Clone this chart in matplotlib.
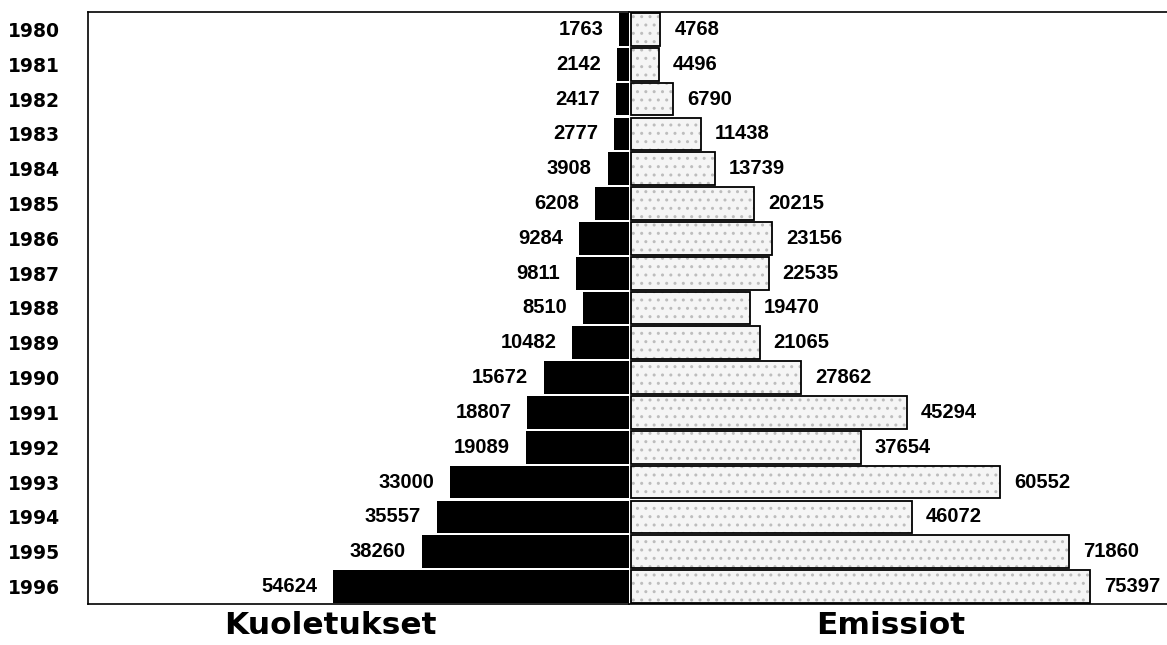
import matplotlib.pyplot as plt
import numpy as np

years = ["1980", "1981", "1982", "1983", "1984", "1985", "1986", "1987", "1988",
         "1989", "1990", "1991", "1992", "1993", "1994", "1995", "1996"]
kuoletukset = [1763, 2142, 2417, 2777, 3908, 6208, 9284, 9811, 8510,
               10482, 15672, 18807, 19089, 33000, 35557, 38260, 54624]
emissiot = [4768, 4496, 6790, 11438, 13739, 20215, 23156, 22535, 19470,
            21065, 27862, 45294, 37654, 60552, 46072, 71860, 75397]

W, H = 1167, 645
fig = plt.figure(figsize=(W / 100, H / 100), dpi=100)

y = np.arange(len(years))
bh = 0.94
lbl_font = dict(family="Liberation Sans", fontweight="bold", fontsize=14.5)

# left side: Kuoletukset (black, growing to the left)
axl = fig.add_axes([88 / W, 41 / H, 541 / W, 592 / H])
axl.barh(y, kuoletukset, height=bh, color="black")
axl.set_xlim(100000, 0)
axl.set_ylim(len(years) - 0.5, -0.5)
axl.set_xticks([])
axl.set_yticks(y)
axl.set_yticklabels(years, fontfamily="DejaVu Sans", fontweight="bold", fontsize=13.5)
axl.tick_params(axis="y", length=0, pad=20)
axl.spines["right"].set_visible(False)
for s in ["left", "top", "bottom"]:
    axl.spines[s].set_linewidth(1.2)
for yi, v in zip(y, kuoletukset):
    axl.annotate(str(v), (v, yi), xytext=(-16, 0), textcoords="offset pixels",
                 ha="right", va="center", **lbl_font)

# right side: Emissiot (light dotted bars)
axr = fig.add_axes([629 / W, 41 / H, 538 / W, 592 / H])
axr.barh(y, emissiot, height=bh, left=0, color="#f5f5f5", edgecolor="#bdbdbd",
         hatch="..", linewidth=0)
axr.barh(y, emissiot, height=bh, fill=False, edgecolor="black", linewidth=1.3)
axr.set_xlim(-400, 88000)
axr.set_ylim(len(years) - 0.5, -0.5)
axr.set_xticks([])
axr.set_yticks([])
for s in ["left", "right"]:
    axr.spines[s].set_visible(False)
for s in ["top", "bottom"]:
    axr.spines[s].set_linewidth(1.2)
for yi, v in zip(y, emissiot):
    axr.annotate(str(v), (v, yi), xytext=(14, 0), textcoords="offset pixels",
                 ha="left", va="center", **lbl_font)

fig.text(330 / W, 1 - 625 / H, "Kuoletukset", ha="center", va="center",
         fontfamily="DejaVu Sans", fontweight="bold", fontsize=22.5)
fig.text(891 / W, 1 - 625 / H, "Emissiot", ha="center", va="center",
         fontfamily="DejaVu Sans", fontweight="bold", fontsize=22.5)

fig.savefig("out.png", dpi=100)
